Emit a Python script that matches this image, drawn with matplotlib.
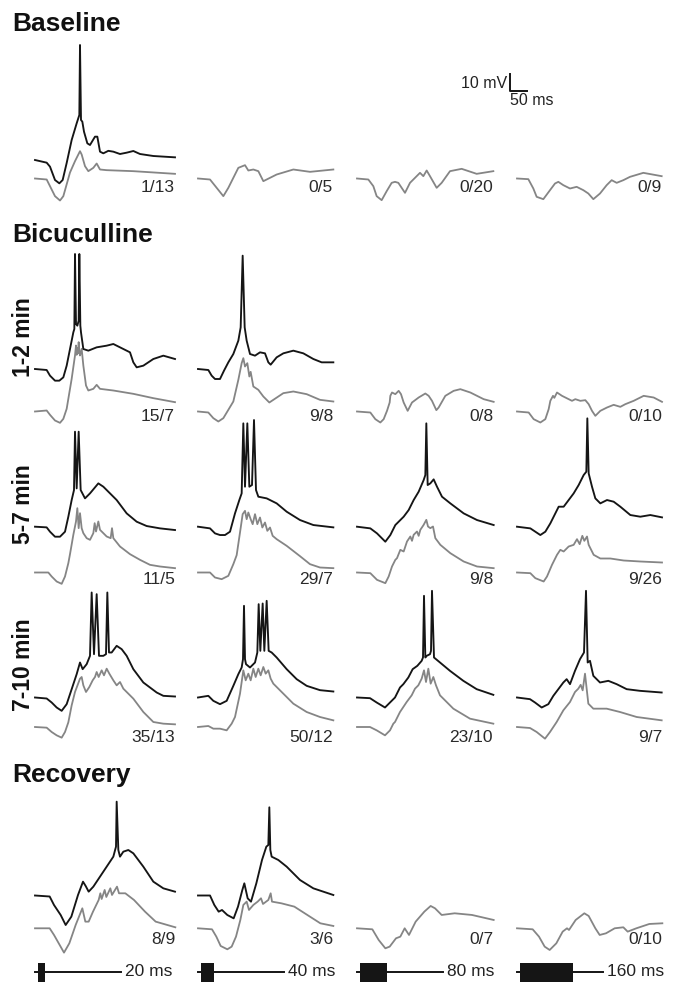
import matplotlib.pyplot as plt

plt.rcParams['font.family'] = ['Liberation Sans', 'DejaVu Sans']

# traces as (time in ms, potential in mV relative to the start of the sweep)
# top = single sweep (black), bot = lower sweep (gray)
base_c1_top = [(0, 0), (35, -1.6), (45, -4), (60, -12), (73, -14), (83, -12), (95, -1.8), (110, 12),
               (125, 22), (133, 27), (135, 69), (138, 24), (142, 23), (147, 17), (157, 10), (165, 9),
               (180, 14), (187, 14), (195, 5), (205, 4), (220, 5.5), (235, 5), (255, 3.6), (275, 4.4),
               (295, 5.4), (315, 3.6), (335, 3), (355, 2.4), (420, 1.6)]
base_c1_bot = [(0, 0), (35, -0.6), (45, -4.6), (60, -10.6), (75, -13.2), (85, -10.6), (105, 3.6),
               (120, 10.4), (135, 16.4), (140, 14.4), (150, 7.4), (160, 4.4), (175, 6.4), (185, 9),
               (195, 5.4), (215, 5), (295, 4.4), (420, 2.8)]
base_c2 = [(0, 0), (36, -0.6), (56, -5.6), (76, -10.6), (91, -5.6), (106, 0.4), (121, 6.4), (141, 8),
           (151, 4.8), (166, 5.4), (181, 4.4), (196, -1.6), (206, -0.6), (236, 2.4), (286, 5.4),
           (336, 4), (406, 5.4)]
base_c3 = [(0, 0), (34, -0.6), (49, -4.6), (59, -10.6), (74, -13), (89, -7.6), (104, -2.6), (114, -2),
           (124, -2.6), (134, -5.6), (144, -8.6), (159, -2.6), (174, 0.4), (189, 3.4), (199, 1.4),
           (209, 4.8), (219, 1.4), (239, -5.6), (254, -2.6), (279, 4.4), (314, 5.8), (359, 2.8), (409, 4.4)]
base_c4 = [(0, 0), (34, -0.4), (49, -6), (59, -11), (79, -12.4), (99, -7), (114, -3), (124, -2),
           (139, -4), (159, -6), (179, -5), (199, -7), (214, -9), (229, -12.4), (249, -9), (269, -4),
           (284, -1), (299, -2.6), (319, -1), (339, 1), (379, 3.4), (434, 1.4)]

b12_c1_top = [(0, 0), (35, -0.6), (45, -4), (60, -7), (73, -7), (85, -5), (95, 2), (105, 12), (115, 22),
              (118, 24), (120, 69), (123, 27), (127, 26), (131, 29), (133, 69), (136, 26), (138, 22),
              (145, 12), (160, 11), (185, 13), (215, 14), (235, 15), (265, 12), (285, 10), (295, 4),
              (305, 1), (325, 2), (355, 6), (385, 8), (420, 6)]
b12_c1_bot = [(0, 0), (35, 0.6), (45, -2), (60, -5.4), (75, -6.8), (85, -4.4), (95, 1.6), (100, 7.6),
              (110, 19.6), (120, 33.6), (123, 39.6), (125, 34), (127, 38), (129, 35), (131, 41.6),
              (133, 36), (135, 33.6), (140, 37.6), (145, 27.6), (153, 15.6), (160, 12.6), (175, 13.6),
              (185, 16), (195, 13.6), (235, 12.6), (295, 10.6), (355, 8), (420, 5.6)]
b12_c2_top = [(0, 0), (31, -0.6), (41, -4), (51, -6), (66, -6), (78, -1), (91, 4), (106, 9), (121, 17),
              (128, 25), (134, 68), (140, 25), (146, 17), (156, 9), (171, 8), (186, 10), (201, 9.4),
              (211, 4), (218, 2.6), (236, 7), (256, 9.4), (286, 11), (316, 9.4), (346, 6), (371, 4), (406, 4)]
b12_c2_bot = [(0, 0), (31, -0.6), (46, -4), (61, -6), (76, -4), (91, 1), (106, 6), (121, 19), (131, 29),
              (136, 32), (141, 27), (148, 29), (154, 21), (158, 23.8), (166, 15), (181, 13), (196, 9),
              (214, 5.4), (226, 7), (256, 11), (286, 12), (326, 10.4), (366, 7), (406, 6)]
b12_c3 = [(0, 0), (40, -0.6), (55, -4.6), (70, -6.6), (80, -4.6), (90, 0.4), (98, 5.4), (100, 9.4),
          (105, 11.4), (115, 10.4), (125, 12.4), (132, 10.4), (140, 5.4), (152, 0.4), (165, 5.4),
          (185, 8.4), (205, 10.8), (215, 9.4), (225, 6.4), (238, 0.8), (245, 2.4), (265, 9.4),
          (290, 12.4), (310, 13.4), (340, 11.4), (380, 7.4), (410, 5.8)]
b12_c4 = [(0, 0), (35, -0.6), (50, -4.6), (70, -6.6), (85, -4.6), (95, 1.4), (100, 6.4), (108, 9.4),
          (112, 8.2), (120, 11.4), (135, 9.4), (145, 8.4), (155, 7.4), (165, 6.4), (175, 7.4),
          (190, 6.4), (205, 6.8), (215, 4.4), (225, 0.4), (235, -2.6), (250, 0.4), (270, 2.4),
          (290, 4), (310, 2.8), (325, 4.4), (350, 6.4), (380, 9.4), (410, 8.4), (435, 5.8)]

b57_c1_top = [(0, 0), (35, -0.4), (45, -3), (60, -6), (75, -6), (90, -3), (100, 6), (110, 16), (117, 22),
              (120, 57), (125, 23), (131, 57), (137, 22), (150, 17), (165, 20), (190, 26), (205, 24),
              (225, 20), (245, 16), (275, 8), (305, 3), (335, 0.4), (375, -1), (420, -2)]
b57_c1_bot = [(0, 0), (40, 0), (50, -2.4), (65, -5.4), (80, -6.8), (90, -2.4), (100, 5.6), (105, 11),
              (115, 22.6), (123, 30.6), (127, 38.6), (131, 26.6), (135, 35.6), (140, 26.6), (145, 23.6),
              (155, 20.6), (165, 19.6), (175, 23.6), (179, 29.6), (183, 24.6), (190, 30.6), (195, 25.6),
              (215, 21.6), (227, 20.6), (231, 26.6), (235, 20.6), (255, 15.6), (285, 11), (315, 7.6),
              (345, 4.6), (375, 3.6), (420, 2.6)]
b57_c2_top = [(0, 0), (36, -1), (51, -4), (66, -5), (81, -5), (96, -3), (111, 8), (124, 16), (131, 20),
              (136, 62), (141, 24), (148, 62), (154, 24), (162, 25), (168, 64), (174, 22), (181, 18),
              (206, 17), (236, 14), (266, 9), (306, 4), (346, 1), (406, -0.4)]
b57_c2_bot = [(0, 0), (36, 0), (51, -3), (71, -4), (91, -2), (106, 5), (116, 10.4), (126, 24), (134, 35),
              (141, 37), (146, 32), (151, 36), (158, 32), (164, 29), (171, 35), (178, 29), (186, 33),
              (193, 27), (201, 30), (208, 25), (216, 27), (224, 22), (236, 20), (266, 16), (306, 9.8),
              (336, 5), (366, 3), (406, 2.6)]
b57_c3_top = [(0, 0), (40, -1), (60, -4), (85, -9), (100, -5), (115, 1), (130, 4), (140, 6), (155, 10),
              (170, 16), (185, 21), (200, 28), (205, 31), (208, 62), (212, 25), (220, 26), (230, 28.4),
              (240, 24), (255, 18), (280, 14), (320, 8), (360, 4), (410, 1)]
b57_c3_bot = [(0, 0), (40, -0.4), (60, -4.4), (85, -6.4), (95, -2.4), (105, 3.6), (115, 7.6), (120, 8.6),
              (130, 13.6), (140, 12.6), (150, 18.6), (160, 21.6), (165, 19), (170, 22.6), (180, 24.6),
              (185, 22), (190, 25.6), (200, 28.6), (208, 31.6), (213, 27.6), (220, 26.6), (228, 27.6),
              (235, 20.6), (250, 16.6), (280, 11.6), (320, 6.6), (360, 3.6), (410, 2.6)]
b57_c4_top = [(0, 0), (40, -1), (55, -3), (70, -5), (85, -3), (100, 2), (115, 8), (125, 12), (140, 12),
              (155, 16), (170, 20), (185, 25), (200, 31), (208, 33), (211, 65), (215, 32), (225, 24),
              (235, 17), (250, 14), (270, 16), (290, 15), (310, 12), (340, 7), (370, 6), (400, 7), (435, 5.6)]
b57_c4_bot = [(0, 0), (40, -0.4), (55, -3.4), (80, -5.4), (90, -2.4), (105, 4.6), (120, 10.6), (130, 13.6),
              (140, 12.6), (155, 15.6), (170, 16.6), (180, 20), (188, 17), (196, 22), (202, 19),
              (210, 21.6), (215, 16.6), (230, 10.6), (250, 8.4), (280, 8.4), (320, 7.2), (370, 6.6), (435, 6)]

b710_c1_top = [(0, 0), (35, -0.6), (50, -3), (65, -6), (80, -8), (95, -4), (110, 5), (125, 14), (135, 21),
               (143, 17), (155, 20), (165, 25), (170, 63), (177, 26), (185, 62), (192, 25), (205, 25),
               (213, 26), (217, 63), (222, 27), (230, 27), (245, 31), (260, 29), (275, 25), (295, 17),
               (325, 9), (365, 3), (385, 1), (420, 0.6)]
b710_c1_bot = [(0, 0), (35, -0.4), (50, -3), (65, -5), (80, -6.4), (90, -3), (100, 2.8), (110, 13),
               (120, 21), (135, 29), (140, 30), (145, 25), (153, 21), (163, 24), (173, 28), (180, 30),
               (185, 33), (191, 30), (200, 34), (207, 31), (215, 35), (223, 32), (235, 28), (245, 25),
               (255, 27), (265, 23), (295, 17), (325, 9), (345, 5), (355, 3), (385, 2), (420, 1.6)]
b710_c2_top = [(0, 0), (31, 1), (46, -2), (66, -4), (86, -2), (106, 7), (121, 14), (131, 18), (135, 23),
               (138, 55), (141, 23), (144, 20), (156, 18), (171, 21), (178, 27), (182, 56), (187, 28),
               (194, 56.4), (199, 28), (206, 58), (212, 28), (221, 27), (236, 24), (266, 17), (296, 11),
               (326, 7), (366, 4.4), (406, 3.6)]
b710_c2_bot = [(0, 0), (31, 0.6), (46, -1), (66, -1), (86, -2), (101, 2), (111, 6), (126, 20), (136, 34),
               (143, 28), (151, 32), (158, 28), (166, 35), (173, 30), (181, 35), (188, 31), (196, 36),
               (203, 32), (211, 34), (218, 29), (226, 26), (256, 20), (286, 14), (326, 9), (366, 6), (406, 4)]
b710_c3_top = [(0, 0), (39, -0.4), (59, -3), (84, -6), (99, -3), (114, 0), (129, 6), (139, 8), (154, 12),
               (167, 17), (181, 19), (194, 22), (198, 24), (201, 61), (205, 24), (209, 25), (219, 26),
               (222, 28), (225, 64), (231, 24), (249, 21), (279, 16), (319, 10), (359, 5), (409, 1.6)]
b710_c3_bot = [(0, 0), (39, 0), (59, -2), (84, -5), (99, -2), (109, 2), (114, 3), (129, 9), (149, 15),
               (164, 19), (174, 23), (184, 25), (194, 29), (201, 34), (207, 27), (214, 35), (221, 26),
               (229, 30), (237, 25), (249, 19), (289, 11), (339, 5), (409, 2)]
b710_c4_top = [(0, 0), (39, -1), (54, -3), (74, -6), (94, -4), (109, 1), (124, 5), (139, 9), (149, 11),
               (159, 8), (174, 16), (189, 23), (201, 27), (207, 64), (212, 21), (219, 22), (229, 13),
               (249, 9), (274, 10), (299, 8), (329, 5), (369, 4), (434, 3)]
b710_c4_bot = [(0, 0), (39, -0.6), (59, -3), (84, -7), (99, -3), (119, 3), (139, 10), (159, 15), (174, 21),
               (184, 23), (191, 25.3), (197, 22), (204, 32), (209, 23), (214, 14), (229, 11), (269, 11),
               (309, 9), (359, 6), (434, 4)]

rec_c1_top = [(0, 0), (44, -0.6), (57, -5.7), (77, -11.7), (92, -17.7), (109, -12.7), (129, 0.3),
              (144, 8.3), (152, 5.7), (161, 2.3), (175, 5.3), (195, 11.3), (215, 17.3), (235, 23.3),
              (243, 29.3), (245, 56.3), (250, 27.3), (255, 23.3), (265, 26.3), (280, 27.3), (295, 25.3),
              (325, 17.3), (355, 8.3), (385, 4.3), (420, 2.3)]
rec_c1_bot = [(0, 0), (44, 0), (57, -4), (74, -10), (87, -14.6), (103, -9), (122, 2), (142, 12), (151, 4),
              (161, 4), (174, 10), (191, 17), (196, 21), (200, 17.6), (209, 23), (214, 18.8), (226, 24),
              (231, 20), (246, 25), (252, 21), (271, 21), (297, 17), (330, 10), (362, 4), (421, 0.6)]
rec_c2_top = [(0, 0), (36, 0), (49, -5.7), (62, -9.7), (72, -8.7), (88, -11.7), (107, -13.7), (120, -6.7),
              (133, 3.3), (139, 7.3), (149, -1.7), (159, -3.7), (175, 7.3), (192, 21.3), (205, 29.3),
              (211, 30.3), (214, 52.9), (217, 27.3), (221, 23.3), (241, 21.3), (266, 17.3), (306, 9.3),
              (346, 4.3), (406, 0.3)]
rec_c2_bot = [(0, 0), (42, -0.6), (55, -5), (68, -10.6), (88, -12.6), (101, -11), (114, -5), (127, 5),
              (136, 14), (146, 16), (153, 11), (166, 14), (179, 16), (189, 18), (195, 14.6), (211, 17),
              (218, 21), (222, 16), (250, 15), (289, 13), (328, 8), (367, 3), (406, 1.4)]
rec_c3 = [(0, 0), (46, -0.6), (65, -7), (85, -12), (98, -11), (117, -6), (130, -5), (143, 0), (156, -4),
          (176, 4), (202, 10), (221, 13.4), (234, 12), (254, 8), (293, 9), (345, 8), (410, 5)]
rec_c4 = [(0, 0), (47, -0.6), (66, -5), (83, -11), (98, -13), (118, -9), (137, -2), (150, 0), (156, -1),
          (176, 5), (202, 9), (215, 7.4), (235, 0), (248, -4), (267, -3), (293, 0), (319, 0.6),
          (332, -2), (358, 0), (397, 2.6), (436, 3)]

# spikes / trials per condition
counts_base = ["1/13", "0/5", "0/20", "0/9"]
counts_b12 = ["15/7", "9/8", "0/8", "0/10"]
counts_b57 = ["11/5", "29/7", "9/8", "9/26"]
counts_b710 = ["35/13", "50/12", "23/10", "9/7"]
counts_rec = ["8/9", "3/6", "0/7", "0/10"]

stim_ms = [20, 40, 80, 160]
sweep_ms = 250
scale_mv, scale_ms = 10, 50

# figure geometry (pixels)
W, H = 677, 982
MS_PER_PX = 3.0
MV_PER_PX = 0.6
col_x = [35, 198, 357, 517]
BLACK = '#151515'
GRAY = '#858585'

fig = plt.figure(figsize=(W / 100, H / 100), dpi=100)


def trace_axes(x0, y0):
    # axes whose (0 ms, 0 mV) sits at pixel (x0, y0), counted from the top left
    t_lo, t_hi, v_lo, v_hi = -20, 480, -60, 110
    left = x0 + t_lo / MS_PER_PX
    bottom = H - (y0 - v_lo / MV_PER_PX)
    ax = fig.add_axes([left / W, bottom / H,
                       (t_hi - t_lo) / MS_PER_PX / W, (v_hi - v_lo) / MV_PER_PX / H])
    ax.set_xlim(t_lo, t_hi)
    ax.set_ylim(v_lo, v_hi)
    ax.axis('off')
    ax.patch.set_alpha(0)
    return ax


def draw(trace, x0, y0, color, lw):
    ax = trace_axes(x0, y0)
    t = [p[0] for p in trace]
    v = [p[1] for p in trace]
    ax.plot(t, v, color=color, lw=lw, solid_joinstyle='round', clip_on=False)


def px_text(x, y, s, **kw):
    fig.text(x / W, 1 - y / H, s, **kw)


rows = [
    # black baseline y, gray baseline y, label y, traces, counts
    (160, 178.5, 188, [(base_c1_top, base_c1_bot), (None, base_c2), (None, base_c3), (None, base_c4)], counts_base),
    (369, 411.5, 416, [(b12_c1_top, b12_c1_bot), (b12_c2_top, b12_c2_bot), (None, b12_c3), (None, b12_c4)], counts_b12),
    (526.7, 572.5, 580, [(b57_c1_top, b57_c1_bot), (b57_c2_top, b57_c2_bot), (b57_c3_top, b57_c3_bot), (b57_c4_top, b57_c4_bot)], counts_b57),
    (697.5, 727, 738, [(b710_c1_top, b710_c1_bot), (b710_c2_top, b710_c2_bot), (b710_c3_top, b710_c3_bot), (b710_c4_top, b710_c4_bot)], counts_b710),
    (895.5, 928.3, 940, [(rec_c1_top, rec_c1_bot), (rec_c2_top, rec_c2_bot), (None, rec_c3), (None, rec_c4)], counts_rec),
]
label_right = [175, 333, 493, 662]

for y_top, y_bot, y_lab, panels, counts in rows:
    for c, (top, bot) in enumerate(panels):
        draw(bot, col_x[c], y_bot, GRAY, 1.3)
        if top is not None:
            draw(top, col_x[c], y_top, BLACK, 1.35)
        px_text(label_right[c], y_lab, counts[c], ha='right', va='center',
                fontsize=12.5, color='#2a2a2a')

# section titles and time labels
title_kw = dict(fontsize=19, fontweight='bold', color='#111111', va='baseline', ha='left')
px_text(12, 31, "Baseline", **title_kw)
px_text(12, 242, "Bicuculline", **title_kw)
px_text(12, 782, "Recovery", **title_kw)

side_kw = dict(fontsize=16.5, fontweight='bold', color='#111111', rotation=90, ha='center', va='center')
px_text(23, 337, "1-2 min", **side_kw)
px_text(23, 504, "5-7 min", **side_kw)
px_text(23, 665, "7-10 min", **side_kw)

# scale bar
sb = trace_axes(510, 91)
sb.plot([0, 0, scale_ms], [scale_mv, 0, 0], color=BLACK, lw=1.4, clip_on=False)
px_text(507, 83, f"{scale_mv} mV", ha='right', va='center', fontsize=11.5, color='#222222')
px_text(510, 100, f"{scale_ms} ms", ha='left', va='center', fontsize=11.5, color='#222222')

# stimulus trains
half = 9.5 * MV_PER_PX
onset = 3 * MS_PER_PX
for c, dur in enumerate(stim_ms):
    ax = trace_axes(col_x[c], 972)
    ax.plot([0, onset + sweep_ms], [0, 0], color=BLACK, lw=1.4, clip_on=False)
    ax.bar(onset, 2 * half, width=dur, bottom=-half, align='edge', color=BLACK, lw=0)
    px_text(col_x[c] + (onset + sweep_ms) / MS_PER_PX + 4, 972, f"{dur} ms",
            ha='left', va='center', fontsize=12.5, color='#222222')

fig.savefig('out.png', dpi=100)
